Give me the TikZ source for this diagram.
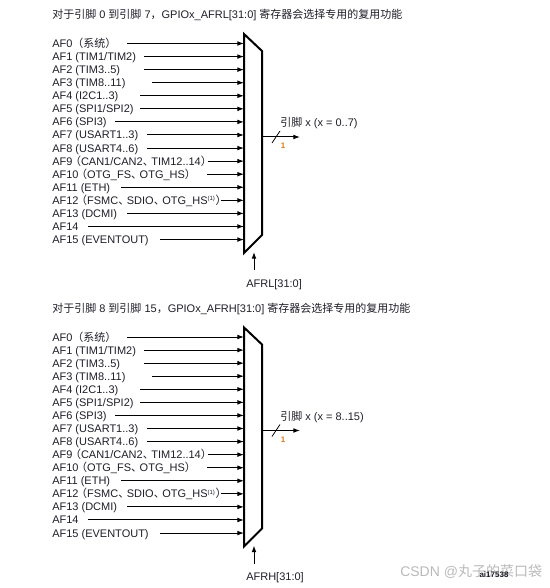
\documentclass[tikz,border=0pt]{standalone}
\usepackage{fontspec}
\setmainfont{Liberation Sans}
\newfontfamily\cjk{Noto Sans CJK SC}
\usetikzlibrary{arrows.meta}
\definecolor{inkc}{RGB}{30,30,40}
\definecolor{numc}{RGB}{225,120,15}
\definecolor{markc}{RGB}{185,185,185}
\newcommand\cjklp{\makebox[0.78em][r]{\cjk （}}
\newcommand\cjkrp{\makebox[0.78em][l]{\cjk ）}}
\newcommand\cjkdun{\makebox[0.78em][l]{\cjk 、}}

\begin{document}
\begin{tikzpicture}[
    x=0.75pt, y=-0.75pt,
    every node/.style={inner sep=0pt, text=inkc, font=\fontsize{8.25pt}{10pt}\selectfont},
    lbl/.style={anchor=west, text height=6pt, text depth=0pt},
    muxline/.style={line width=1.5pt, line join=miter},
    arrow/.style={-{Latex[length=5pt,width=3.6pt]}, line width=0.75pt},
    buswidth/.style={font=\fontsize{6pt}{7pt}\selectfont\bfseries, text=numc}
]
\useasboundingbox (0,0) rectangle (549,588);
\foreach \p/\dy/\lo/\hi/\reg in {L/0/0/7/AFRL, H/293.5/8/15/AFRH}{
  \begin{scope}[shift={(0,\dy)}]
    \node[lbl] (title\p) at (52,15) {{\cjk 对于引脚} \lo{} {\cjk 到引脚} \hi{\cjk ，}GPIOx\_\reg[31:0] {\cjk 寄存器会选择专用的复用功能}};
    \coordinate (mtl\p) at (244,34);
    \coordinate (mtr\p) at (262,51);
    \coordinate (mbr\p) at (262,235);
    \coordinate (mbl\p) at (244,253);
    \draw[muxline] (mtl\p) -- (mtr\p) -- (mbr\p) -- (mbl\p) -- cycle;
    \foreach \i/\txt/\xs in {
        0/{AF0{\cjk （系统）}}/127,
        1/{AF1 (TIM1/TIM2)}/144,
        2/{AF2 (TIM3..5)}/144,
        3/{AF3 (TIM8..11)}/152,
        4/{AF4 (I2C1..3)}/140,
        5/{AF5 (SPI1/SPI2)}/140,
        6/{AF6 (SPI3)}/115,
        7/{AF7 (USART1..3)}/147,
        8/{AF8 (USART4..6)}/147,
        9/{AF9\cjklp CAN1/CAN2\cjkdun TIM12..14\cjkrp}/208,
        10/{AF10\cjklp OTG\_FS\cjkdun OTG\_HS\cjkrp}/207,
        11/{AF11 (ETH)}/121,
        12/{AF12\cjklp FSMC\cjkdun SDIO\cjkdun OTG\_HS\textsuperscript{\fontsize{4.5pt}{5pt}\selectfont(1)}\cjkrp}/221,
        13/{AF13 (DCMI)}/127,
        14/{AF14}/88,
        15/{AF15 (EVENTOUT)}/160}{
      \node[lbl] (af\p\i) at (52,{43.5+13.07*\i}) {\txt};
      \coordinate (s\p\i) at (\xs,{43.5+13.07*\i});
      \draw[arrow] (s\p\i) -- (s\p\i -| mtl\p);
    }
    \coordinate (out\p) at (262,137);
    \coordinate (oend\p) at (300,137);
    \draw[arrow] (out\p) -- (oend\p);
    \node[lbl] (pin\p) at (280,123) {{\cjk 引脚} x (x = \lo..\hi)};
    \coordinate (sla\p) at (272,143);
    \coordinate (slb\p) at (280,131);
    \draw[line width=0.6pt] (sla\p) -- (slb\p);
    \node[buswidth] (bw\p) at (283,146) {1};
    \coordinate (sel\p) at (254,270);
    \coordinate (selend\p) at (254,252);
    \draw[arrow] (sel\p) -- (selend\p);
    \node[lbl] (reg\p) at (246,283) {\reg[31:0]};
  \end{scope}
}
\node[anchor=west, text=markc, font=\fontsize{10.5pt}{12pt}\selectfont] (csdn) at (400,572) {CSDN @{\cjk 丸子的菜口袋}};
\node[font=\fontsize{6pt}{7pt}\selectfont\bfseries] (figid) at (494,575) {ai17538};
\end{tikzpicture}
\end{document}
